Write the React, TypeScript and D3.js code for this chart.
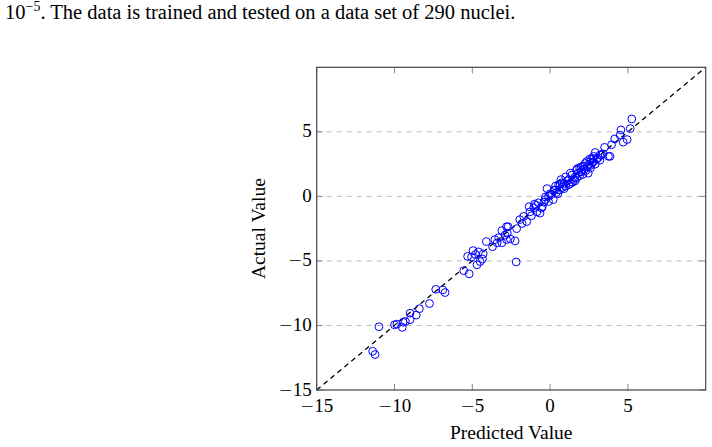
import React from "react";
import * as d3 from "d3";

const predicted: number[] = [
  -11.0, -11.4, -11.25, -10.0, -9.85, -9.5, -9.45, -9.3, -9.0, -9.0, -8.6, -8.4, -7.75,
  -7.35, -6.9, -6.75, -5.55, -5.2, -5.3, -4.95, -5.05, -4.8, -4.7, -4.6, -4.5, -4.3, -4.35, -4.1,
  -3.7, -3.55, -3.1, -3.1, -2.8, -2.8, -2.9, -3.3, -3.4, -2.7, -2.25, -2.55, -2.75, -2.15, -2.18,
  -1.95, -1.7, -1.5, -1.3, -1.35, -1.05, -0.75, -0.65, -0.85, -1.8, -1.2, -1.0, -0.5, -0.4,
  -0.2, -0.1, 0.1, 0.35, 0.55, 0.2, -0.3, -0.55, 0.75, 1.2, 0.0, 0.4, 0.6, 0.8, 0.9, 1.0, 1.1,
  1.3, 1.4, 1.5, 1.6, 1.7, 1.8, 1.9, 2.0, 2.05, 2.2, 2.25, 2.4, 2.45, 2.5, 2.55, 2.6, 2.7, 2.8,
  2.8, 2.9, 3.0, 3.1, 3.2, 3.3, 3.5, 3.75, 3.85, 3.95, 4.15, 4.5, 4.55, 4.7, 4.95, 5.15, 5.25,
  0.3, 0.7, 1.0, 1.3, 1.6, 1.9, 2.1, 2.3, 2.6, 2.9, 3.2, 3.4, 0.5, -0.1, 0.9, 1.2, 1.7, 2.0, 2.35, 2.75,
  -0.9, -0.3, 0.25, 0.65, 1.45, 1.75, 2.15, 2.65,
];
const actual: number[] = [
  -10.1, -12.0, -12.25, -9.95, -9.9, -10.15, -9.75, -9.7, -9.05, -9.55, -9.2, -8.7, -8.3,
  -7.2, -7.25, -7.45, -5.75, -6.0, -4.65, -4.2, -4.7, -4.5, -5.3, -4.3, -5.05, -4.45, -4.85, -3.5,
  -3.9, -3.35, -3.6, -2.65, -2.35, -3.35, -3.0, -3.2, -3.6, -2.35, -3.45, -3.3, -2.85, -2.5, -5.08,
  -1.8, -1.55, -1.95, -1.2, -0.8, -0.9, -0.5, -1.3, -1.2, -2.1, -1.5, -0.6, -0.8, -0.45,
  0.6, 0.0, 0.15, 0.8, 0.9, -0.25, -0.25, -0.9, 1.05, 1.3, 0.2, 0.3, 0.5, 0.7, 1.0, 0.8, 1.2,
  1.0, 1.65, 1.3, 1.5, 2.05, 1.8, 1.6, 2.3, 2.0, 2.1, 2.55, 2.3, 1.8, 2.5, 2.9, 2.2, 2.6, 3.1,
  2.7, 3.4, 2.9, 3.0, 3.2, 3.2, 3.8, 3.1, 3.1, 4.0, 4.45, 4.75, 5.15, 4.2, 4.4, 5.25, 6.0,
  0.5, 1.3, 1.5, 1.8, 1.2, 2.2, 1.7, 2.0, 2.4, 2.5, 2.8, 3.3, 0.2, -0.4, 0.6, 0.9, 1.4, 1.9, 2.7, 2.95,
  -0.7, -0.05, 0.45, 0.95, 1.1, 2.15, 2.35, 2.85,
];

const xTicks: number[] = [-15, -10, -5, 0, 5];
const yTicks: number[] = [-15, -10, -5, 0, 5];
const domain: [number, number] = [-15, 10];

const W = 712;
const H = 447;
const left = 316.7;
const right = 705.7;
const top = 67.3;
const bottom = 390;

const serif = "Liberation Serif, Times New Roman, serif";

function TickText(props: { v: number; x: number; y: number; anchor: string }) {
  const { v, x, y, anchor } = props;
  return (
    <text x={x} y={y} textAnchor={anchor} fontFamily={serif} fontSize={19} fill="#000">
      {v < 0 ? (
        <>
          <tspan fontFamily="DejaVu Sans" fontSize={17} fontWeight={300}>{"\u2212"}</tspan>
          <tspan>{String(Math.abs(v))}</tspan>
        </>
      ) : (
        String(v)
      )}
    </text>
  );
}

export default function App() {
  const x = d3.scaleLinear().domain(domain).range([left, right]);
  const y = d3.scaleLinear().domain(domain).range([bottom, top]);
  const diag = d3.line<number>().x((v) => x(v)).y((v) => y(v))(domain) || "";
  const tickLen = 6;
  return (
    <svg
      width={W}
      height={H}
      style={{ position: "absolute", left: 0, top: 0, background: "#fff" }}
    >
      <text x={5} y={19} fontFamily={serif} fontSize={20.5} fill="#000">
        10<tspan dy={-8} fontSize={14}>{"\u22125"}</tspan>
        <tspan dy={8}>. The data is trained and tested on a data set of 290 nuclei.</tspan>
      </text>

      {yTicks
        .filter((t) => t > domain[0])
        .map((t) => (
          <line
            key={"g" + t}
            x1={left}
            x2={right}
            y1={y(t)}
            y2={y(t)}
            stroke="#b8b8b8"
            strokeWidth={1}
            strokeDasharray="5,5"
          />
        ))}

      {xTicks.map((t) => (
        <g key={"xt" + t}>
          <line x1={x(t)} x2={x(t)} y1={bottom} y2={bottom - tickLen} stroke="#888" strokeWidth={1} />
          <line x1={x(t)} x2={x(t)} y1={top} y2={top + tickLen} stroke="#888" strokeWidth={1} />
          <TickText v={t} x={x(t)} y={bottom + 22} anchor="middle" />
        </g>
      ))}
      {yTicks.map((t) => (
        <g key={"yt" + t}>
          <line x1={left} x2={left + tickLen} y1={y(t)} y2={y(t)} stroke="#888" strokeWidth={1} />
          <line x1={right} x2={right - tickLen} y1={y(t)} y2={y(t)} stroke="#888" strokeWidth={1} />
          <TickText v={t} x={left - 5} y={y(t) + 5.5} anchor="end" />
        </g>
      ))}

      <path d={diag} stroke="#000" strokeWidth={1.3} strokeDasharray="5,4" fill="none" />

      {predicted.map((p, i) => (
        <circle
          key={"c" + i}
          cx={x(p)}
          cy={y(actual[i])}
          r={3.9}
          fill="none"
          stroke="#0000ff"
          strokeWidth={1}
        />
      ))}

      <rect
        x={left}
        y={top}
        width={right - left}
        height={bottom - top}
        fill="none"
        stroke="#444"
        strokeWidth={1.2}
      />

      <text
        x={(left + right) / 2}
        y={439}
        textAnchor="middle"
        fontFamily={serif}
        fontSize={19.5}
        fill="#000"
      >
        Predicted Value
      </text>
      <text
        transform={`translate(265, ${(top + bottom) / 2}) rotate(-90)`}
        textAnchor="middle"
        fontFamily={serif}
        fontSize={19.5}
        fill="#000"
      >
        Actual Value
      </text>
    </svg>
  );
}
